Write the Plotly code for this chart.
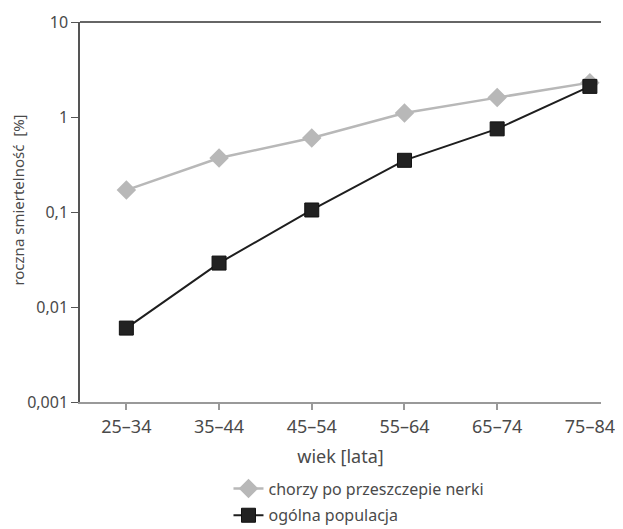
import plotly.graph_objects as go

categories = ["25–34", "35–44", "45–54", "55–64", "65–74", "75–84"]
transplant = [0.17, 0.37, 0.60, 1.1, 1.6, 2.3]
general = [0.006, 0.029, 0.105, 0.35, 0.75, 2.1]
y_tickvals = [0.001, 0.01, 0.1, 1, 10]
y_ticktext = ["0,001", "0,01", "0,1", "1", "10"]

FONT = "Noto Sans"
TXT = "#4a4a4a"
xpos = list(range(len(categories)))

fig = go.Figure()
fig.add_trace(go.Scatter(
    x=xpos, y=transplant, mode="lines+markers",
    name="chorzy po przeszczepie nerki", legendgroup="a",
    line=dict(color="#b8b8b8", width=2.5),
    marker=dict(symbol="diamond", size=15, color="#b8b8b8"),
    cliponaxis=False,
))
fig.add_trace(go.Scatter(
    x=xpos, y=general, mode="lines+markers",
    name="ogólna populacja", legendgroup="b",
    line=dict(color="#1e1e1e", width=2),
    marker=dict(symbol="square", size=14, color="#222222",
                line=dict(color="#111111", width=1)),
    cliponaxis=False,
))
# invisible trace on a second x axis that only carries the tick marks
fig.add_trace(go.Scatter(x=xpos, y=general, xaxis="x2", mode="none",
                         showlegend=False, hoverinfo="skip"))

fig.update_layout(
    width=615, height=521,
    margin=dict(l=72, r=22, t=14, b=127, autoexpand=False),
    paper_bgcolor="white", plot_bgcolor="white",
    font=dict(family=FONT, size=16, color=TXT),
    showlegend=True,
    legend=dict(x=0.285, y=-0.183, xanchor="left", yanchor="top",
                orientation="v", font=dict(size=16, color=TXT),
                tracegroupgap=3, itemwidth=30),
    shapes=[dict(type="line", xref="paper", yref="paper", x0=0, x1=1, y0=1, y1=1,
                 line=dict(color="#333333", width=1.5))],
    annotations=[dict(text="roczna smiertelność  [%]", textangle=-90,
                      xref="paper", yref="paper", x=-0.119, y=0.53,
                      xanchor="center", yanchor="middle", showarrow=False,
                      font=dict(size=15, color=TXT))],
    xaxis2=dict(overlaying="x", matches="x", side="bottom",
                tickmode="array", tickvals=xpos[:-1], showticklabels=False,
                ticks="outside", ticklen=7, tickcolor="#999999", tickwidth=1.5,
                showgrid=False, zeroline=False, showline=False),
    xaxis=dict(
        tickmode="array", tickvals=xpos, ticktext=categories,
        range=[-0.5, 5.12], showgrid=False, zeroline=False,
        showline=True, linecolor="#999999", linewidth=2,
        ticks="outside", ticklen=7, tickcolor="rgba(0,0,0,0)",
        title=dict(text="wiek [lata]", font=dict(size=18, color=TXT), standoff=14),
        tickfont=dict(size=18, color=TXT),
    ),
    yaxis=dict(
        type="log", range=[-3, 1], tickmode="array",
        tickvals=y_tickvals, ticktext=y_ticktext,
        showgrid=False, zeroline=False,
        showline=True, linecolor="#555555", linewidth=1.5,
        ticks="outside", ticklen=7, tickcolor="#555555",
        tickfont=dict(size=16, color=TXT),
    ),
)

fig.write_html("out.html")
